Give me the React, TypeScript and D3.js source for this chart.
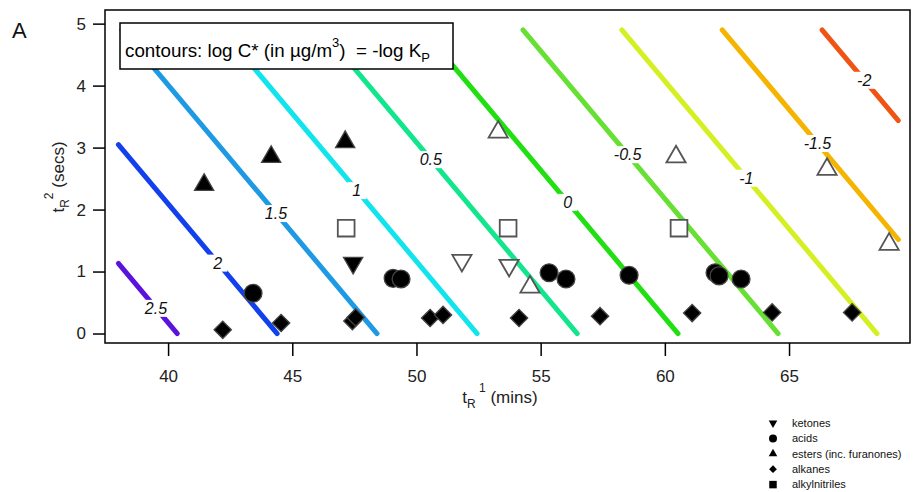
import { useEffect, useRef } from "react";
import * as d3 from "d3";

const WIDTH = 916;
const HEIGHT = 492;
const FONT = "'Liberation Sans', Arial, sans-serif";

// contour levels: log C* (ug/m3), where each contour meets t2 = 0, and where its label sits (t2)
const LEVELS = [2.5, 2, 1.5, 1, 0.5, 0, -0.5, -1, -1.5, -2];
const LEVEL_BASE = [40.37, 44.39, 48.41, 52.44, 56.47, 60.53, 64.56, 68.54, 72.58, 76.6];
const LEVEL_LABEL_T2 = [0.41, 1.14, 1.94, 2.31, 2.81, 2.12, 2.89, 2.51, 3.07, 4.09];
const LEVEL_COLORS = [
  "#5a12dc",
  "#1240ec",
  "#1e9ae4",
  "#12e4ee",
  "#12e68c",
  "#20e012",
  "#66e032",
  "#d4f022",
  "#f5b400",
  "#f05414",
];
const CONTOUR_SLOPE = 0.477; // secs of t2 per min of t1
const CONTOUR_T1 = [38, 69.4];
const CONTOUR_T2 = [0, 4.9];

const X_TICKS = [40, 45, 50, 55, 60, 65];
const Y_TICKS = [0, 1, 2, 3, 4, 5];

// [t1 (mins), t2 (secs), filled]
const KETONES: [number, number, number][] = [
  [47.45, 1.14, 1],
  [51.83, 1.18, 0],
  [53.73, 1.1, 0],
];
const ACIDS: [number, number, number][] = [
  [43.42, 0.65, 1],
  [49.06, 0.89, 1],
  [49.38, 0.88, 1],
  [55.34, 0.98, 1],
  [56.02, 0.88, 1],
  [58.56, 0.94, 1],
  [62.02, 0.98, 1],
  [62.18, 0.93, 1],
  [63.07, 0.88, 1],
];
const ESTERS: [number, number, number][] = [
  [41.45, 2.4, 1],
  [44.15, 2.85, 1],
  [47.13, 3.09, 1],
  [53.29, 3.25, 0],
  [54.57, 0.75, 0],
  [60.45, 2.85, 0],
  [66.53, 2.65, 0],
  [69.03, 1.44, 0],
];
const ALKANES: [number, number, number][] = [
  [42.2, 0.06, 1],
  [44.55, 0.17, 1],
  [47.42, 0.2, 1],
  [47.55, 0.26, 1],
  [50.55, 0.25, 1],
  [51.07, 0.3, 1],
  [54.13, 0.25, 1],
  [57.39, 0.28, 1],
  [61.1, 0.33, 1],
  [64.32, 0.34, 1],
  [67.54, 0.34, 1],
];
const ALKYLNITRILES: [number, number, number][] = [
  [47.17, 1.7, 0],
  [53.69, 1.7, 0],
  [60.57, 1.7, 0],
];

const CLASSES = [
  { name: "ketones", shape: "down", points: KETONES },
  { name: "acids", shape: "circle", points: ACIDS },
  { name: "esters (inc. furanones)", shape: "up", points: ESTERS },
  { name: "alkanes", shape: "diamond", points: ALKANES },
  { name: "alkylnitriles", shape: "square", points: ALKYLNITRILES },
];

function symbolPath(shape: string, scale = 1) {
  switch (shape) {
    case "circle":
      return d3.symbol(d3.symbolCircle, 250 * scale)()!;
    case "square":
      return d3.symbol(d3.symbolSquare, 280 * scale)()!;
    case "diamond":
      return d3.symbol(d3.symbolSquare, 150 * scale)()!;
    default:
      return d3.symbol(d3.symbolTriangle, 160 * scale)()!;
  }
}

function symbolRotate(shape: string) {
  if (shape === "diamond") return 45;
  if (shape === "down") return 180;
  return 0;
}

export default function App() {
  const svgRef = useRef<SVGSVGElement>(null);

  useEffect(() => {
    const svg = d3.select(svgRef.current);
    svg.selectAll("*").remove();

    const x = d3.scaleLinear().domain([37.46, 69.87]).range([105, 910]);
    const y = d3.scaleLinear().domain([-0.153, 5.22]).range([343, 10]);

    svg.append("rect").attr("width", WIDTH).attr("height", HEIGHT).attr("fill", "#fff");

    // contour lines
    const lines = svg.append("g");
    const labels = svg.append("g");
    LEVELS.forEach((level, i) => {
      const b = LEVEL_BASE[i];
      const t1Start = Math.max(CONTOUR_T1[0], b - CONTOUR_T2[1] / CONTOUR_SLOPE);
      const t1End = Math.min(CONTOUR_T1[1], b);
      const pts: [number, number][] = [
        [t1Start, CONTOUR_SLOPE * (b - t1Start)],
        [t1End, CONTOUR_SLOPE * (b - t1End)],
      ];
      lines
        .append("path")
        .attr(
          "d",
          d3
            .line<[number, number]>()
            .x((d) => x(d[0]))
            .y((d) => y(d[1]))(pts)
        )
        .attr("stroke", LEVEL_COLORS[i])
        .attr("stroke-width", 5)
        .attr("stroke-linecap", "round")
        .attr("fill", "none");

      // label sits in a gap cut out of the line
      const lt2 = LEVEL_LABEL_T2[i];
      const lt1 = b - lt2 / CONTOUR_SLOPE;
      const lg = labels.append("g").attr("transform", `translate(${x(lt1)},${y(lt2)})`);
      const bg = lg.append("rect").attr("fill", "#fff");
      const txt = lg
        .append("text")
        .attr("text-anchor", "middle")
        .attr("dy", "0.36em")
        .attr("font-family", FONT)
        .attr("font-style", "italic")
        .attr("font-size", 16)
        .attr("fill", "#111")
        .text(String(level));
      const bb = (txt.node() as SVGTextElement).getBBox();
      bg.attr("x", bb.x - 5)
        .attr("y", bb.y)
        .attr("width", bb.width + 10)
        .attr("height", bb.height);
    });

    // legend box for contours
    const box = svg.append("g");
    box
      .append("rect")
      .attr("x", 120)
      .attr("y", 23)
      .attr("width", 333)
      .attr("height", 46)
      .attr("fill", "#fff")
      .attr("stroke", "#000")
      .attr("stroke-width", 1.5);
    const bt = box
      .append("text")
      .attr("x", 125)
      .attr("y", 57)
      .attr("font-family", FONT)
      .attr("font-size", 18.8)
      .attr("fill", "#000");
    bt.append("tspan").text("contours: log C* (in \u00b5g/m");
    bt.append("tspan").attr("font-size", 13).attr("dy", -10).text("3");
    bt.append("tspan").attr("dy", 10).text(")\u00a0 = -log K");
    bt.append("tspan").attr("font-size", 13).attr("dy", 5).text("P");

    // markers
    const marks = svg.append("g");
    CLASSES.forEach((c) => {
      marks
        .selectAll(null)
        .data(c.points)
        .join("path")
        .attr("d", symbolPath(c.shape))
        .attr(
          "transform",
          (d) => `translate(${x(d[0])},${y(d[1])}) rotate(${symbolRotate(c.shape)})`
        )
        .attr("fill", (d) => (d[2] ? "#000" : "#fff"))
        .attr("stroke", (d) => (d[2] ? "#444" : "#555"))
        .attr("stroke-width", (d) => (d[2] ? 1.3 : 1.8));
    });

    // frame
    svg
      .append("rect")
      .attr("x", 105)
      .attr("y", 10)
      .attr("width", 805)
      .attr("height", 333)
      .attr("fill", "none")
      .attr("stroke", "#000")
      .attr("stroke-width", 1.5);

    // axes
    const xAxis = svg
      .append("g")
      .attr("transform", "translate(0,343)")
      .call(
        d3.axisBottom(x).tickValues(X_TICKS).tickFormat(d3.format("d")).tickSize(13).tickSizeOuter(0).tickPadding(14)
      );
    const yAxis = svg
      .append("g")
      .attr("transform", "translate(105,0)")
      .call(
        d3.axisLeft(y).tickValues(Y_TICKS).tickFormat(d3.format("d")).tickSize(12).tickSizeOuter(0).tickPadding(7)
      );
    [xAxis, yAxis].forEach((a) => {
      a.select(".domain").remove();
      a.selectAll(".tick line").attr("stroke", "#000").attr("stroke-width", 1.5);
      a.selectAll(".tick text")
        .attr("font-family", FONT)
        .attr("font-size", 17)
        .attr("fill", "#222");
    });

    // axis titles
    const xt = svg
      .append("text")
      .attr("x", 500)
      .attr("y", 403)
      .attr("text-anchor", "middle")
      .attr("font-family", FONT)
      .attr("font-size", 17)
      .attr("fill", "#222");
    xt.append("tspan").text("t");
    xt.append("tspan").attr("font-size", 12).attr("dy", 5).text("R");
    xt.append("tspan").attr("font-size", 12).attr("dy", -16).text("\u00a01");
    xt.append("tspan").attr("dy", 11).text(" (mins)");

    const yt = svg
      .append("text")
      .attr("transform", "translate(64,177) rotate(-90)")
      .attr("text-anchor", "middle")
      .attr("font-family", FONT)
      .attr("font-size", 17)
      .attr("fill", "#222");
    yt.append("tspan").text("t");
    yt.append("tspan").attr("font-size", 12).attr("dy", 5).text("R");
    yt.append("tspan").attr("font-size", 12).attr("dy", -16).text("2");
    yt.append("tspan").attr("dy", 11).text(" (secs)");

    // panel letter
    svg
      .append("text")
      .attr("x", 12)
      .attr("y", 38)
      .attr("font-family", FONT)
      .attr("font-size", 22)
      .attr("fill", "#111")
      .text("A");

    // class legend
    const leg = svg.append("g").attr("transform", "translate(773,423)");
    CLASSES.forEach((c, i) => {
      const row = leg.append("g").attr("transform", `translate(0,${i * 15.4})`);
      row
        .append("path")
        .attr("d", symbolPath(c.shape, 0.2))
        .attr("transform", `rotate(${symbolRotate(c.shape)})`)
        .attr("fill", "#000");
      row
        .append("text")
        .attr("x", 19)
        .attr("dy", "0.35em")
        .attr("font-family", FONT)
        .attr("font-size", 11)
        .attr("fill", "#111")
        .text(c.name);
    });
  }, []);

  return (
    <svg
      ref={svgRef}
      width={WIDTH}
      height={HEIGHT}
      style={{ position: "absolute", left: 0, top: 0 }}
    />
  );
}
